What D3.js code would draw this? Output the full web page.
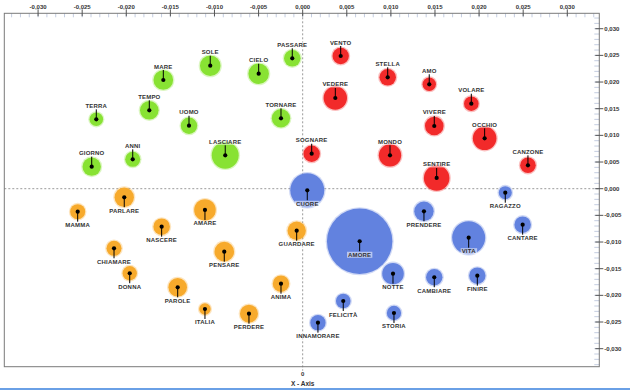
<!DOCTYPE html>
<html>
<head>
<meta charset="utf-8">
<script src="https://cdn.jsdelivr.net/npm/d3@7"></script>
<style>
  body { margin: 0; background: #fff; }
  svg { display: block; }
  text { font-family: "Liberation Sans", Arial, sans-serif; font-weight: bold; }
</style>
</head>
<body>
<div id="chart"></div>
<script>
// words and their position on the two axes, bubble weight, colour group
var words  = ["PASSARE","CIELO","SOLE","MARE","TEMPO","TERRA","UOMO","TORNARE","LASCIARE","ANNI","GIORNO",
              "SOGNARE","VENTO","STELLA","AMO","VEDERE","VOLARE","VIVERE","OCCHIO","MONDO","CANZONE","SENTIRE",
              "PARLARE","MAMMA","AMARE","NASCERE","GUARDARE","CHIAMARE","PENSARE","DONNA","PAROLE","ANIMA","ITALIA","PERDERE",
              "CUORE","RAGAZZO","PRENDERE","CANTARE","AMORE","VITA","NOTTE","CAMBIARE","FINIRE","FELICITÀ","STORIA","INNAMORARE"];
var xVals  = [-0.00118,-0.00499,-0.01048,-0.01580,-0.01739,-0.02340,-0.01289,-0.00246,-0.00878,-0.01927,-0.02392,
              0.00102,0.00431,0.00964,0.01435,0.00370,0.01912,0.01492,0.02063,0.00990,0.02554,0.01519,
              -0.02023,-0.02551,-0.01108,-0.01599,-0.00068,-0.02139,-0.00889,-0.01961,-0.01417,-0.00246,-0.01108,-0.00609,
              0.00052,0.02297,0.01375,0.02494,0.00646,0.01882,0.01024,0.01492,0.01980,0.00460,0.01035,0.00173];
var yVals  = [0.02445,0.02156,0.02306,0.02038,0.01470,0.01301,0.01181,0.01320,0.00626,0.00551,0.00413,
              0.00656,0.02488,0.02089,0.01958,0.01701,0.01594,0.01176,0.00945,0.00626,0.00439,0.00201,
              -0.00161,-0.00431,-0.00399,-0.00713,-0.00788,-0.01118,-0.01181,-0.01586,-0.01849,-0.01781,-0.02256,-0.02344,
              -0.00030,-0.00075,-0.00424,-0.00675,-0.00986,-0.00919,-0.01594,-0.01661,-0.01631,-0.02106,-0.02331,-0.02513];
var weights = [6.4,9.9,9.9,9.0,8.1,4.3,6.3,7.9,17.0,5.3,7.9,
               6.3,6.3,6.4,4.2,12.8,5.0,8.1,13.0,11.7,5.7,15.3,
               8.8,5.3,10.9,6.4,7.9,5.3,9.0,4.8,8.1,6.3,3.1,7.6,
               27.0,4.0,8.8,6.4,100,25.5,10.9,6.3,6.3,5.0,4.8,5.5];
var groups = ["g","g","g","g","g","g","g","g","g","g","g",
              "r","r","r","r","r","r","r","r","r","r","r",
              "o","o","o","o","o","o","o","o","o","o","o","o",
              "b","b","b","b","b","b","b","b","b","b","b","b"];
var groupColors = {g: "#88e233", r: "#f22a2a", o: "#f7aa2c", b: "#6282df"};

var xTicks = [-0.030,-0.025,-0.020,-0.015,-0.010,-0.005,0,0.005,0.010,0.015,0.020,0.025,0.030];
var yTicks = [0.030,0.025,0.020,0.015,0.010,0.005,0,-0.005,-0.010,-0.015,-0.020,-0.025,-0.030];

var width = 630, height = 390;
var pLeft = 4.3, pRight = 599.3, pTop = 13.3, pBottom = 366.7;

var svg = d3.select("#chart").append("svg")
  .attr("width", width)
  .attr("height", height);

var x = d3.scaleLinear().domain([-0.03383, 0.03363]).range([pLeft, pRight]);
var y = d3.scaleLinear().domain([-0.03338, 0.03289]).range([pBottom, pTop]);
var r = d3.scaleSqrt().domain([0, 100]).range([0, 32.7]);

var fmt = d3.formatLocale({decimal: ",", thousands: ".", grouping: [3], currency: ["", ""], minus: "-"}).format(".3f");

// minor ticks every 0.001
var minorX = d3.range(-33, 34).map(function(d){ return d / 1000; });
var minorY = d3.range(-33, 33).map(function(d){ return d / 1000; });

svg.selectAll(".minx").data(minorX).enter().append("line")
  .attr("x1", function(d){ return x(d); }).attr("x2", function(d){ return x(d); })
  .attr("y1", pTop).attr("y2", pTop + 4)
  .attr("stroke", "#c4cde0").attr("stroke-width", 1);

svg.selectAll(".miny").data(minorY).enter().append("line")
  .attr("x1", pRight - 5).attr("x2", pRight)
  .attr("y1", function(d){ return y(d); }).attr("y2", function(d){ return y(d); })
  .attr("stroke", "#c4cde0").attr("stroke-width", 1);

// zero lines
svg.append("line")
  .attr("x1", x(0)).attr("x2", x(0)).attr("y1", pTop).attr("y2", pBottom + 4)
  .attr("stroke", "#9a9a9a").attr("stroke-dasharray", "2,2");
svg.append("line")
  .attr("x1", pLeft).attr("x2", pRight).attr("y1", y(0)).attr("y2", y(0))
  .attr("stroke", "#9a9a9a").attr("stroke-dasharray", "2,2");

// frame
svg.append("rect")
  .attr("x", pLeft).attr("y", pTop)
  .attr("width", pRight - pLeft).attr("height", pBottom - pTop)
  .attr("fill", "none").attr("stroke", "#7a7a7a").attr("stroke-width", 1);

// top axis
svg.selectAll(".tx").data(xTicks).enter().append("line")
  .attr("x1", function(d){ return x(d); }).attr("x2", function(d){ return x(d); })
  .attr("y1", pTop - 4).attr("y2", pTop + 3)
  .attr("stroke", "#555");
svg.selectAll(".txl").data(xTicks).enter().append("text")
  .attr("x", function(d){ return x(d); })
  .attr("y", 8.5)
  .attr("text-anchor", "middle")
  .attr("font-size", "6px")
  .attr("fill", "#333")
  .text(function(d){ return fmt(d); });

// right axis
svg.selectAll(".ty").data(yTicks).enter().append("line")
  .attr("x1", pRight - 4).attr("x2", pRight + 4)
  .attr("y1", function(d){ return y(d); }).attr("y2", function(d){ return y(d); })
  .attr("stroke", "#555");
svg.selectAll(".tyl").data(yTicks).enter().append("text")
  .attr("x", pRight + 5)
  .attr("y", function(d){ return y(d) + 2; })
  .attr("font-size", "6px")
  .attr("fill", "#333")
  .text(function(d){ return fmt(d); });

// bottom labels
svg.append("text").attr("x", x(0)).attr("y", 376).attr("text-anchor", "middle")
  .attr("font-size", "6px").attr("fill", "#333").text("0");
svg.append("text").attr("x", x(0)).attr("y", 386).attr("text-anchor", "middle")
  .attr("font-size", "6.5px").attr("fill", "#333").text("X - Axis");

svg.append("rect").attr("x", 0).attr("y", 388).attr("width", width).attr("height", 2)
  .attr("fill", "#6aa0e6");

// bubbles
var data = words.map(function(w, i){
  return {word: w, x: xVals[i], y: yVals[i], w: weights[i], g: groups[i]};
});
var sorted = data.slice().sort(function(a, b){ return b.w - a.w; });

var bub = svg.selectAll(".bub").data(sorted).enter().append("g");
bub.append("circle")
  .attr("cx", function(d){ return x(d.x); })
  .attr("cy", function(d){ return y(d.y); })
  .attr("r", function(d){ return r(d.w) + 1.3; })
  .attr("fill", function(d){ return groupColors[d.g]; })
  .attr("opacity", 0.3);
bub.append("circle")
  .attr("cx", function(d){ return x(d.x); })
  .attr("cy", function(d){ return y(d.y); })
  .attr("r", function(d){ return r(d.w); })
  .attr("fill", function(d){ return groupColors[d.g]; });

// stems, dots, labels
var lab = svg.selectAll(".lab").data(data).enter().append("g");
lab.append("line")
  .attr("x1", function(d){ return x(d.x); }).attr("x2", function(d){ return x(d.x); })
  .attr("y1", function(d){ return y(d.y); })
  .attr("y2", function(d){ return y(d.y) + (d.y >= 0 ? -10 : 10); })
  .attr("stroke", "#000").attr("stroke-width", 1);
lab.append("circle")
  .attr("cx", function(d){ return x(d.x); })
  .attr("cy", function(d){ return y(d.y); })
  .attr("r", 2.1)
  .attr("fill", "#000");
var txt = lab.append("text")
  .attr("x", function(d){ return x(d.x); })
  .attr("y", function(d){ return y(d.y) + (d.y >= 0 ? -11.5 : 15.5); })
  .attr("text-anchor", "middle")
  .attr("font-size", "6px")
  .attr("letter-spacing", "0.2px")
  .attr("fill", "#333")
  .text(function(d){ return d.word; });
txt.each(function(d){
  var bb = this.getBBox();
  d3.select(this.parentNode).insert("rect", "text")
    .attr("x", bb.x - 1).attr("y", bb.y)
    .attr("width", bb.width + 2).attr("height", bb.height)
    .attr("fill", "#fff").attr("opacity", 0.55);
});
</script>
</body>
</html>
